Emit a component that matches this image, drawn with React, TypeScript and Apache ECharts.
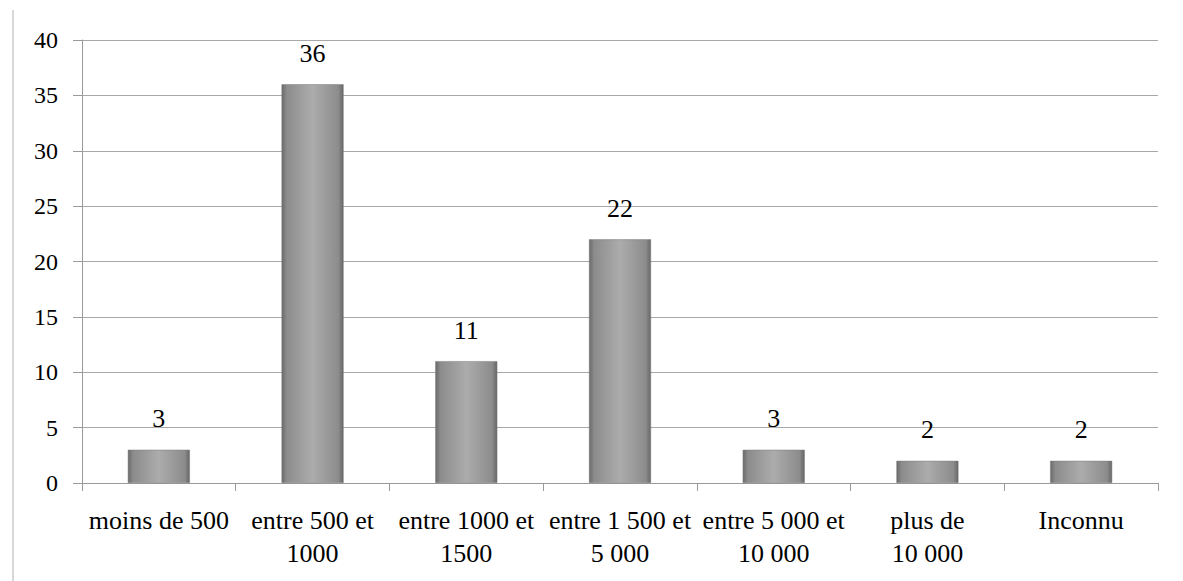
import React, { useEffect, useRef } from "react";
import * as echarts from "echarts";

const categories = [
  "moins de 500",
  "entre 500 et\n1000",
  "entre 1000 et\n1500",
  "entre 1 500 et\n5 000",
  "entre 5 000 et\n10 000",
  "plus de\n10 000",
  "Inconnu",
];
const values = [3, 36, 11, 22, 3, 2, 2];
const yTicks = { min: 0, max: 40, interval: 5 };

const FONT = "Times New Roman, Liberation Serif, DejaVu Serif, serif";

export default function App() {
  const ref = useRef<HTMLDivElement>(null);
  useEffect(() => {
    document.body.style.margin = "0";
    if (!ref.current) return;
    const chart = echarts.init(ref.current, undefined, { renderer: "svg" });
    chart.setOption({
      animation: false,
      backgroundColor: "#ffffff",
      textStyle: { fontFamily: FONT },
      grid: { left: 82, right: 25, top: 40, bottom: 98, containLabel: false },
      graphic: [
        {
          type: "line",
          shape: { x1: 13, y1: 10, x2: 13, y2: 581 },
          style: { stroke: "#b0b0b0", lineWidth: 1 },
        },
      ],
      xAxis: {
        type: "category",
        data: categories,
        axisLine: { show: true, lineStyle: { color: "#9a9a9a", width: 1 } },
        axisTick: { show: true, length: 8, lineStyle: { color: "#9a9a9a" } },
        axisLabel: {
          interval: 0,
          color: "#000",
          fontFamily: FONT,
          fontSize: 26,
          lineHeight: 33,
          margin: 21,
          align: "center",
        },
      },
      yAxis: {
        type: "value",
        min: yTicks.min,
        max: yTicks.max,
        interval: yTicks.interval,
        axisLine: { show: true, lineStyle: { color: "#9a9a9a", width: 1 } },
        axisTick: { show: true, length: 9, lineStyle: { color: "#9a9a9a" } },
        splitLine: { show: true, lineStyle: { color: "#a8a8a8", width: 1 } },
        axisLabel: {
          color: "#000",
          fontFamily: FONT,
          fontSize: 24,
          margin: 24,
        },
      },
      series: [
        {
          type: "bar",
          data: values,
          barWidth: 62,
          itemStyle: {
            color: new echarts.graphic.LinearGradient(0, 0, 1, 0, [
              { offset: 0, color: "#6a6a6a" },
              { offset: 0.08, color: "#8c8c8c" },
              { offset: 0.5, color: "#acacac" },
              { offset: 0.92, color: "#8c8c8c" },
              { offset: 1, color: "#666666" },
            ]),
            borderColor: "#7a7a7a",
            borderWidth: 0.5,
          },
          label: {
            show: true,
            position: "top",
            distance: 18,
            color: "#000",
            fontFamily: FONT,
            fontSize: 26,
          },
        },
      ],
    });
    return () => chart.dispose();
  }, []);
  return <div ref={ref} style={{ width: 1183, height: 581 }} />;
}
